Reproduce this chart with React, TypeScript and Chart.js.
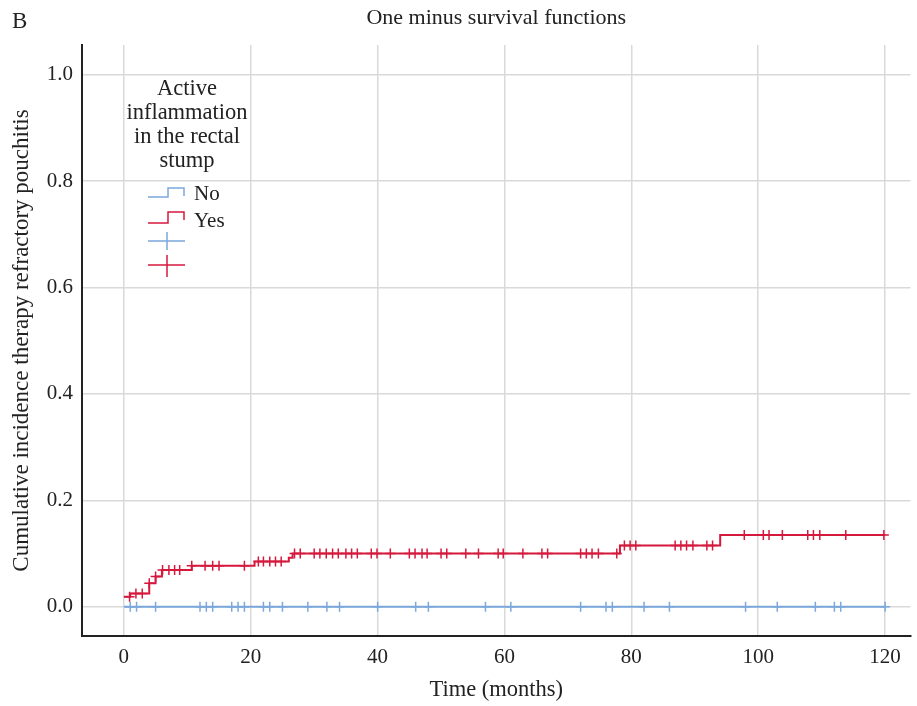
import React, { useEffect, useRef } from "react";
import { Chart, registerables } from "chart.js";

Chart.register(...registerables);

const FONT = "'Liberation Serif', 'Times New Roman', serif";
const BLUE = "#7ba8dc";
const RED = "#d5193d";
const TEXT = "#222222";

// Tick labels
const xTicks = [0, 20, 40, 60, 80, 100, 120];
const yTicks = [0, 0.2, 0.4, 0.6, 0.8, 1.0];

// Group "No" (no active inflammation) – step curve and censored times
const noTimes = [0, 120];
const noValues = [0, 0];
const noCensored = [1, 2, 5, 12, 13, 14, 17, 18, 19, 22, 23, 25, 29, 32, 34, 40, 46, 48, 57, 61, 72, 76, 77, 82, 86, 98, 103, 109, 112, 113, 120];

// Group "Yes" (active inflammation) – step curve and censored times
const yesTimes = [0, 1, 4, 5, 6, 10.7, 20.6, 26, 26.6, 78.2, 94, 120];
const yesValues = [0.019, 0.025, 0.044, 0.057, 0.069, 0.077, 0.085, 0.092, 0.1, 0.115, 0.135, 0.135];
const yesCensored = [0.9, 1.9, 2.9, 4.0, 5.0, 6.1, 7.1, 8.0, 8.8, 10.7, 12.8, 14.0, 15.0, 19.0, 21.2, 22.0, 23.0, 23.9, 24.8, 26.9, 27.8, 30.0, 30.9, 31.9, 32.9, 33.8, 35.0, 35.9, 36.8, 39.0, 39.9, 42.0, 45.0, 45.9, 47.0, 47.8, 50.0, 50.9, 53.9, 55.9, 59.0, 59.8, 62.9, 65.9, 66.8, 72.0, 72.9, 73.8, 74.8, 77.7, 78.9, 79.8, 80.7, 86.9, 87.8, 88.7, 89.7, 91.9, 92.8, 97.8, 100.8, 101.7, 103.8, 107.8, 108.7, 109.7, 113.8, 119.8];

// Text
const panelLetter = "B";
const chartTitle = "One minus survival functions";
const xTitle = "Time (months)";
const yTitle = "Cumulative incidence therapy refractory pouchitis";
const legendTitle = ["Active", "inflammation", "in the rectal", "stump"];
const legendLabels = ["No", "Yes"];

function stepValue(times: number[], values: number[], t: number): number {
  let v = values[0];
  for (let i = 0; i < times.length; i++) {
    if (times[i] <= t) v = values[i];
  }
  return v;
}

const overlayPlugin = {
  id: "overlay",
  afterDraw(chart: any) {
    const ctx = chart.ctx as CanvasRenderingContext2D;
    ctx.save();
    // Panel letter
    ctx.fillStyle = TEXT;
    ctx.font = `23px ${FONT}`;
    ctx.textAlign = "left";
    ctx.textBaseline = "alphabetic";
    ctx.fillText(panelLetter, 12, 28);

    // Legend title
    ctx.font = `22.5px ${FONT}`;
    ctx.textAlign = "center";
    ctx.textBaseline = "alphabetic";
    legendTitle.forEach((s, i) => ctx.fillText(s, 187, 95 + i * 24));

    // Legend step icons
    ctx.lineWidth = 1.5;
    ctx.strokeStyle = BLUE;
    ctx.beginPath();
    ctx.moveTo(148, 197);
    ctx.lineTo(168, 197);
    ctx.lineTo(168, 188);
    ctx.lineTo(184, 188);
    ctx.lineTo(184, 196);
    ctx.stroke();

    ctx.strokeStyle = RED;
    ctx.beginPath();
    ctx.moveTo(148, 223);
    ctx.lineTo(168, 223);
    ctx.lineTo(168, 212);
    ctx.lineTo(184, 212);
    ctx.lineTo(184, 220);
    ctx.stroke();

    // Legend censor icons
    ctx.strokeStyle = BLUE;
    ctx.beginPath();
    ctx.moveTo(148, 241);
    ctx.lineTo(185, 241);
    ctx.moveTo(167, 232);
    ctx.lineTo(167, 250);
    ctx.stroke();

    ctx.strokeStyle = RED;
    ctx.beginPath();
    ctx.moveTo(148, 265);
    ctx.lineTo(185, 265);
    ctx.moveTo(167, 255);
    ctx.lineTo(167, 277);
    ctx.stroke();

    ctx.fillStyle = TEXT;
    ctx.font = `21px ${FONT}`;
    ctx.textAlign = "left";
    ctx.fillText(legendLabels[0], 194, 200);
    ctx.fillText(legendLabels[1], 194, 227);
    ctx.restore();
  },
};

export default function App() {
  const ref = useRef<HTMLCanvasElement>(null);

  useEffect(() => {
    const canvas = ref.current;
    if (!canvas) return;
    const chart = new Chart(canvas, {
      type: "line",
      data: {
        datasets: [
          {
            label: legendLabels[0],
            data: noTimes.map((t, i) => ({ x: t, y: noValues[i] })),
            borderColor: BLUE,
            borderWidth: 2,
            stepped: "before",
            pointRadius: 0,
            fill: false,
          },
          {
            label: legendLabels[1],
            data: yesTimes.map((t, i) => ({ x: t, y: yesValues[i] })),
            borderColor: RED,
            borderWidth: 2,
            stepped: "before",
            pointRadius: 0,
            fill: false,
          },
          {
            label: "No censored",
            data: noCensored.map((t) => ({ x: t, y: stepValue(noTimes, noValues, t) })),
            showLine: false,
            pointStyle: "cross",
            pointRadius: 5,
            pointBorderColor: BLUE,
            pointBorderWidth: 1.5,
            borderColor: BLUE,
          },
          {
            label: "Yes censored",
            data: yesCensored.map((t) => ({ x: t, y: stepValue(yesTimes, yesValues, t) })),
            showLine: false,
            pointStyle: "cross",
            pointRadius: 5,
            pointBorderColor: RED,
            pointBorderWidth: 1.5,
            borderColor: RED,
          },
        ],
      } as any,
      options: {
        responsive: false,
        animation: false,
        events: [],
        layout: { padding: { left: 0, right: 4, top: 0, bottom: 0 } },
        plugins: {
          legend: { display: false },
          tooltip: { enabled: false },
          title: {
            display: true,
            fullSize: false,
            text: chartTitle,
            color: TEXT,
            font: { family: FONT, size: 22, weight: "normal" },
            padding: { top: 5, bottom: 13.6 },
          },
        },
        scales: {
          x: {
            type: "linear",
            min: -6.6,
            max: 124,
            afterBuildTicks: (s: any) => {
              s.ticks = xTicks.map((v) => ({ value: v }));
            },
            afterFit: (s: any) => {
              s.height = 70;
            },
            grid: { color: "#d9d9d9", lineWidth: 1.5, drawTicks: false },
            border: { color: TEXT, width: 2 },
            ticks: {
              padding: 9,
              color: TEXT,
              font: { family: FONT, size: 21 },
              callback: (v: any) => String(v),
            },
            title: {
              display: true,
              text: xTitle,
              color: TEXT,
              font: { family: FONT, size: 22.5 },
              padding: { top: 0, bottom: 2.5 },
            },
          },
          y: {
            type: "linear",
            min: -0.055,
            max: 1.056,
            afterBuildTicks: (s: any) => {
              s.ticks = yTicks.map((v) => ({ value: v }));
            },
            afterFit: (s: any) => {
              s.width = 82;
            },
            grid: { color: "#d9d9d9", lineWidth: 1.5, drawTicks: false },
            border: { color: TEXT, width: 2 },
            ticks: {
              padding: 9,
              color: TEXT,
              font: { family: FONT, size: 21 },
              callback: (v: any) => Number(v).toFixed(1),
            },
            title: {
              display: true,
              text: yTitle,
              color: TEXT,
              font: { family: FONT, size: 23 },
              padding: { top: 8, bottom: 0 },
            },
          },
        },
      } as any,
      plugins: [overlayPlugin],
    });
    return () => chart.destroy();
  }, []);

  return (
    <div style={{ position: "absolute", left: 0, top: 0, width: 917, height: 706, background: "#ffffff" }}>
      <canvas ref={ref} width={917} height={706} style={{ display: "block" }} />
    </div>
  );
}
